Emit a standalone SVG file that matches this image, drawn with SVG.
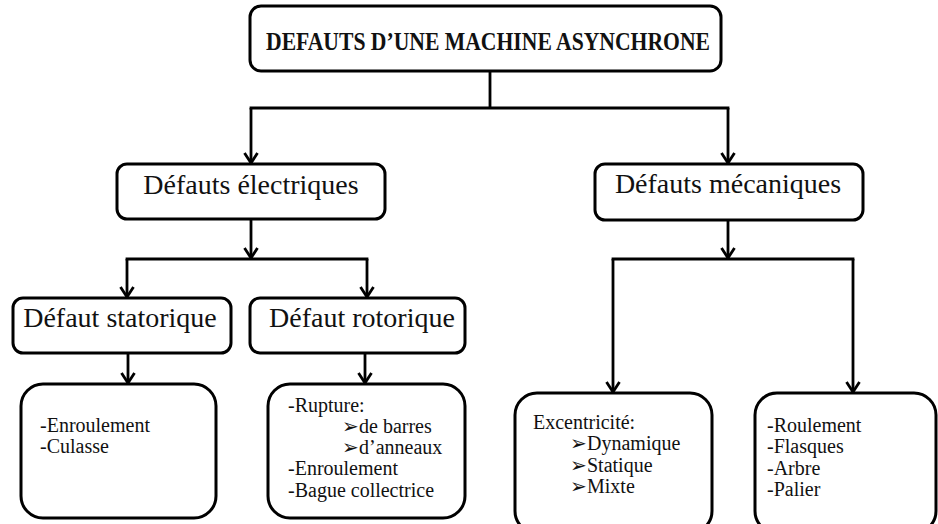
<svg xmlns="http://www.w3.org/2000/svg" width="938" height="524" viewBox="0 0 938 524">
<defs>
<style>
.box{fill:#fff;stroke:#000;stroke-width:3}
.ln{fill:none;stroke:#000;stroke-width:2.8}
.h{font-size:28px;text-anchor:middle}
.c{font-size:20px}
</style>
<marker id="ah" viewBox="0 0 14 16" refX="12" refY="8" markerWidth="14" markerHeight="16" markerUnits="userSpaceOnUse" orient="auto">
<path d="M2,1.5 L12,8 L2,14.5" fill="none" stroke="#000" stroke-width="2.8"/>
</marker>
</defs>
<rect width="938" height="524" fill="#fff"/>

<g id="connectors">
<path class="ln" d="M490,71 V108 M249.6,108 H729.4"/>
<path class="ln" d="M251,108 V163" marker-end="url(#ah)"/>
<path class="ln" d="M728,108 V163" marker-end="url(#ah)"/>
<path class="ln" d="M251,219 V258" marker-end="url(#ah)"/>
<path class="ln" d="M125.6,259 H368.4"/>
<path class="ln" d="M127,259 V297" marker-end="url(#ah)"/>
<path class="ln" d="M367,259 V297" marker-end="url(#ah)"/>
<path class="ln" d="M728,220 V258" marker-end="url(#ah)"/>
<path class="ln" d="M611.6,259 H854.4"/>
<path class="ln" d="M613,259 V392" marker-end="url(#ah)"/>
<path class="ln" d="M853,259 V392" marker-end="url(#ah)"/>
<path class="ln" d="M128,353 V383" marker-end="url(#ah)"/>
<path class="ln" d="M365,353 V383" marker-end="url(#ah)"/>
</g>

<g font-family="'Liberation Serif', Tinos, 'DejaVu Serif', 'Noto Serif', serif" fill="#111">
<g id="root">
<rect class="box" x="250" y="6" width="471" height="65" rx="11"/>
<text x="488" y="50" font-size="25" font-weight="bold" text-anchor="middle" textLength="444" lengthAdjust="spacingAndGlyphs">DEFAUTS D’UNE MACHINE ASYNCHRONE</text>
</g>

<g id="electriques">
<rect class="box" x="117" y="164" width="268" height="55" rx="10"/>
<text class="h" x="251" y="194">Défauts électriques</text>
</g>

<g id="mecaniques">
<rect class="box" x="595" y="164" width="268" height="56" rx="10"/>
<text class="h" x="728" y="193">Défauts mécaniques</text>
</g>

<g id="statorique">
<rect class="box" x="13" y="298" width="218" height="55" rx="10"/>
<text class="h" x="120" y="327">Défaut statorique</text>
</g>

<g id="rotorique">
<rect class="box" x="250" y="298" width="215" height="55" rx="10"/>
<text class="h" x="362" y="327">Défaut rotorique</text>
</g>

<g id="statorique-details">
<rect class="box" x="21" y="384" width="195" height="134" rx="22"/>
<text class="c" x="40" y="432">-Enroulement</text>
<text class="c" x="40" y="453">-Culasse</text>
</g>

<g id="rotorique-details">
<rect class="box" x="268" y="384" width="197" height="134" rx="22"/>
<text class="c" x="288" y="412">-Rupture:</text>
<text class="c" x="342" y="433">➢de barres</text>
<text class="c" x="342" y="454">➢d’anneaux</text>
<text class="c" x="288" y="475">-Enroulement</text>
<text class="c" x="288" y="497">-Bague collectrice</text>
</g>

<g id="excentricite">
<rect class="box" x="515" y="393" width="197" height="140" rx="22"/>
<text class="c" x="533" y="429">Excentricité:</text>
<text class="c" x="570" y="450">➢Dynamique</text>
<text class="c" x="570" y="472">➢Statique</text>
<text class="c" x="570" y="493">➢Mixte</text>
</g>

<g id="mecaniques-details">
<rect class="box" x="755" y="393" width="181" height="140" rx="22"/>
<text class="c" x="767" y="432">-Roulement</text>
<text class="c" x="767" y="453">-Flasques</text>
<text class="c" x="767" y="475">-Arbre</text>
<text class="c" x="767" y="496">-Palier</text>
</g>
</g>
</svg>
